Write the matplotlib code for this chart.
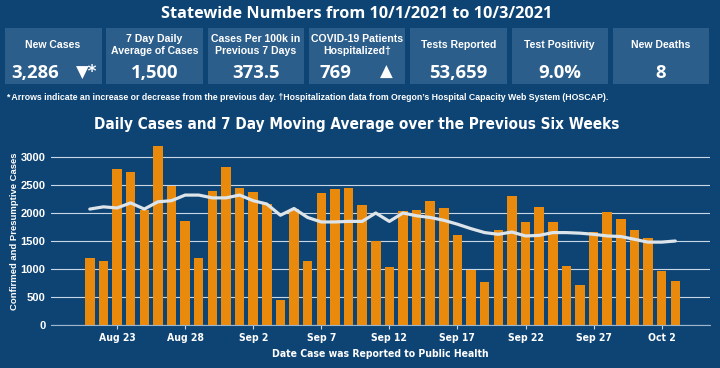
import matplotlib
matplotlib.use('agg')
import matplotlib.pyplot as plt
import matplotlib.dates as mdates
from matplotlib.patches import Rectangle
from matplotlib import font_manager
import pandas as pd

# data
dates = pd.date_range('2021-08-21', '2021-10-03', freq='D')
cases = [1200, 1140, 2790, 2740, 2050, 3200, 2490, 1850, 1190, 2390, 2820,
         2440, 2370, 2160, 450, 2070, 1140, 2350, 2420, 2440, 2140,
         1500, 1040, 2030, 2050, 2210, 2090, 1600, 990, 760, 1690,
         2300, 1840, 2100, 1840, 1050, 710, 1660, 2010, 1900, 1690,
         1550, 960, 790]
avg7 = [2070, 2110, 2090, 2180, 2070, 2200, 2220, 2320, 2320, 2270, 2270,
        2320, 2220, 2160, 1960, 2080, 1920, 1840, 1840, 1850, 1850,
        2000, 1850, 2000, 1950, 1920, 1870, 1800, 1720, 1650, 1620,
        1660, 1590, 1600, 1650, 1650, 1640, 1620, 1590, 1580, 1530,
        1480, 1480, 1500]

box_titles = ['New Cases', '7 Day Daily\nAverage of Cases', 'Cases Per 100k in\nPrevious 7 Days',
              'COVID-19 Patients\nHospitalized\u2020', 'Tests Reported', 'Test Positivity', 'New Deaths']
box_values = ['3,286', '1,500', '373.5', '769', '53,659', '9.0%', '8']
box_arrows = {0: '\u25bc', 3: '\u25b2'}

BG = '#0E4474'
BOX = '#2C5E8C'
ORANGE = '#E98A0D'
LINE = '#DDE4EA'

# narrow bold font for the chart texts (DejaVu condensed face)
narrow = font_manager.FontProperties(family='DejaVu Sans', stretch='condensed', weight='bold')

W, H = 720, 368
fig = plt.figure(figsize=(7.2, 3.68), dpi=100, facecolor=BG)


def fx(px):
    return px / W


def fy(py):
    return 1 - py / H


# header
fig.text(fx(357), fy(14), 'Statewide Numbers from 10/1/2021 to 10/3/2021', color='white',
         fontsize=11.7, fontweight='bold', family='Open Sans', ha='center', va='center')

# KPI boxes
for i, (t, v) in enumerate(zip(box_titles, box_values)):
    x0 = 5 + i * 101.3
    fig.add_artist(Rectangle((fx(x0), fy(84)), fx(96.5), 56 / H, transform=fig.transFigure,
                             facecolor=BOX, edgecolor='none'))
    cx = x0 + 48
    fig.text(fx(cx), fy(45), t, color='white', fontsize=7.6, fontweight='bold',
             family='Liberation Sans', ha='center', va='center', linespacing=1.3)
    if i in box_arrows:
        vx = x0 + 30 if i == 0 else x0 + 27
        fig.text(fx(vx), fy(73), v, color='white', fontsize=13.3, fontweight='bold',
                 family='Open Sans', ha='center', va='center')
        arrow = box_arrows[i] + ('*' if i == 0 else '')
        ax_x = x0 + 82 if i == 0 else x0 + 77
        fig.text(fx(ax_x), fy(72), arrow, color='white', fontsize=12, fontweight='bold',
                 family='DejaVu Sans', ha='center', va='center')
    else:
        fig.text(fx(cx), fy(73), v, color='white', fontsize=13.3, fontweight='bold',
                 family='Open Sans', ha='center', va='center')

fig.text(fx(6), fy(97), '* Arrows indicate an increase or decrease from the previous day. '
         '\u2020Hospitalization data from Oregon\u2019s Hospital Capacity Web System (HOSCAP).',
         color='white', fontsize=6.3, fontweight='bold', family='Liberation Sans', ha='left', va='center')

fig.text(fx(357), fy(125), 'Daily Cases and 7 Day Moving Average over the Previous Six Weeks',
         color='white', fontsize=11, fontproperties=narrow, ha='center', va='center')

# chart
ax = fig.add_axes([fx(51), fy(325), fx(659), 182 / H])
ax.set_facecolor(BG)
ax.bar(dates, cases, width=0.7, color=ORANGE, zorder=2)
ax.plot(dates, avg7, color=LINE, lw=2.3, zorder=3, solid_capstyle='round')

ax.set_ylim(0, 3250)
ax.set_xlim(dates[0] - pd.Timedelta(days=2.85), dates[-1] + pd.Timedelta(days=2.55))
ax.set_yticks([0, 500, 1000, 1500, 2000, 2500, 3000])
ax.yaxis.grid(True, color='#C9D7E5', lw=0.8, zorder=1)
ax.set_xticks(dates[2::5])
ax.xaxis.set_major_formatter(mdates.DateFormatter('%b %-d'))

for s in ['top', 'right', 'left']:
    ax.spines[s].set_visible(False)
ax.spines['bottom'].set_color('#9DB6CC')
ax.spines['bottom'].set_linestyle((0, (2, 1)))
ax.spines['bottom'].set_linewidth(0.8)
ax.tick_params(axis='y', length=0, pad=4, colors='white')
ax.tick_params(axis='x', length=3, color='#C9D7E5', pad=3, colors='white')
for lab in ax.get_yticklabels():
    lab.set_fontsize(8)
    lab.set_fontweight('bold')
    lab.set_family('Liberation Sans')
for lab in ax.get_xticklabels():
    lab.set_fontproperties(narrow)
    lab.set_fontsize(7.5)

fig.text(fx(15), fy(231), 'Confirmed and Presumptive Cases', color='white', fontsize=6.8,
         fontweight='bold', family='Liberation Sans', rotation=90, ha='center', va='center')
fig.text(fx(380), fy(354), 'Date Case was Reported to Public Health', color='white', fontsize=7.5,
         fontproperties=narrow, ha='center', va='center')

fig.savefig('out.png', dpi=100, facecolor=BG)
